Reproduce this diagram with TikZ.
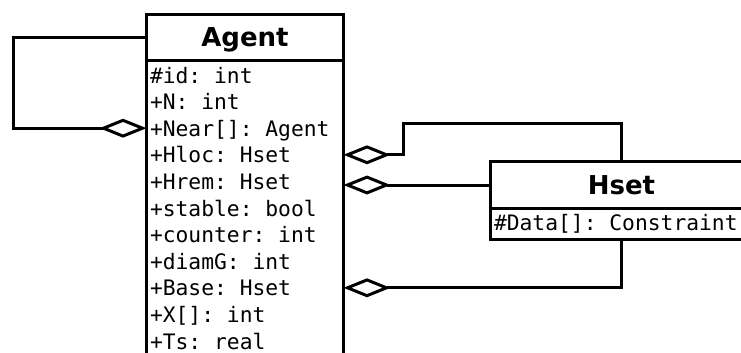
\documentclass[tikz,border=0pt]{standalone}
\usepackage{fontspec}
\setmainfont{DejaVu Sans}
\setmonofont{DejaVu Sans Mono}
\usetikzlibrary{arrows.meta}
\begin{document}
\begin{tikzpicture}[x=1pt, y=1pt, line width=3pt,
  classbox/.style={draw, rectangle, inner sep=0pt, anchor=north west},
  title/.style={classbox, font=\fontsize{26}{31}\selectfont\bfseries, text depth=0pt},
  row/.style={anchor=base west, inner sep=0pt, font=\fontsize{21.3}{26}\selectfont\ttfamily},
  agg/.style={-{Diamond[open, length=47pt, width=19pt]}, shorten >=-1.5pt}
]
\clip (0,0) rectangle (741,-353);

% class Agent
\node[title, minimum width=197pt, minimum height=46pt] (agenthead) at (145,-13) {Agent};
\node[classbox, minimum width=197pt, minimum height=330pt] (agentbody) at (145,-59) {};
\node[row] (id)      at (148.5,-83)  {\#id: int};
\node[row] (n)       at (148.5,-109.6) {+N: int};
\node[row] (near)    at (148.5,-136.2) {+Near[]: Agent};
\node[row] (hloc)    at (148.5,-162.8) {+Hloc: Hset};
\node[row] (hrem)    at (148.5,-189.4) {+Hrem: Hset};
\node[row] (stable)  at (148.5,-216)  {+stable: bool};
\node[row] (counter) at (148.5,-242.6) {+counter: int};
\node[row] (diamg)   at (148.5,-269.2) {+diamG: int};
\node[row] (base)    at (148.5,-295.8) {+Base: Hset};
\node[row] (x)       at (148.5,-322.4) {+X[]: int};
\node[row] (ts)      at (148.5,-349)  {+Ts: real};

% class Hset
\node[title, minimum width=262pt, minimum height=47pt] (hsethead) at (489,-160) {Hset};
\node[classbox, minimum width=262pt, minimum height=31pt] (hsetbody) at (489,-207) {};
\node[row] (data) at (492.5,-230) {\#Data[]: Constraint};

% attachment points on the Agent box
\coordinate (nearport) at ([yshift=8pt]near.base);
\coordinate (hlocport) at ([yshift=8pt]hloc.base);
\coordinate (baseport) at ([yshift=8pt]base.base);

% aggregations
\draw[agg] (agenthead.west) -- ++(-132,0) |- (agentbody.west |- nearport);
\draw[agg] (hsethead.north) -- ++(0,37) -| ([xshift=58pt]agentbody.east |- hlocport) -- (agentbody.east |- hlocport);
\draw[agg] (hsethead.west) -- (agentbody.east |- hsethead.west);
\draw[agg] (hsetbody.south) |- (agentbody.east |- baseport);
\end{tikzpicture}
\end{document}
